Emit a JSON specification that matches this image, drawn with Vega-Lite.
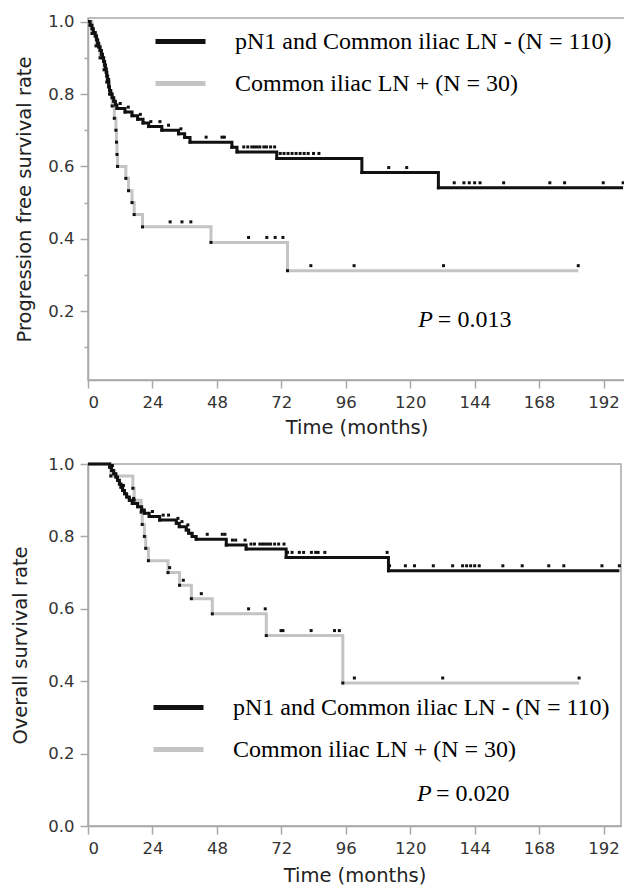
{
"$schema": "https://vega.github.io/schema/vega-lite/v6.json",
"padding": {"left": 10, "top": 12, "right": 1, "bottom": 2},
"background": "white",
"spacing": 17,
"columns": 1,
"align": "none",
"config": {
 "view": {"stroke": "#a8a8a8", "strokeWidth": 1.5},
 "axis": {"domainColor": "#a8a8a8", "tickColor": "#a8a8a8", "domainWidth": 1.5, "tickWidth": 1.5, "labelColor": "#333", "titleColor": "#222", "labelFont": "DejaVu Sans", "titleFont": "DejaVu Sans", "labelFontSize": 16.5, "titleFontSize": 19.5, "titleFontWeight": "normal", "grid": false, "labelPadding": 6},
 "legend": {"title": null, "symbolType": "stroke", "symbolSize": 2500, "symbolStrokeWidth": 5, "labelFont": "Liberation Serif", "labelFontSize": 24, "labelColor": "#000", "labelOffset": 27, "rowPadding": 2, "labelLimit": 600, "padding": 0}
},
"datasets": {
"pfs": [
{"group":"Common iliac LN + (N = 30)","t":0,"s":1,"k":"start"},
{"group":"Common iliac LN + (N = 30)","t":1.5,"s":0.967,"k":"event"},
{"group":"Common iliac LN + (N = 30)","t":3,"s":0.933,"k":"event"},
{"group":"Common iliac LN + (N = 30)","t":4.5,"s":0.9,"k":"event"},
{"group":"Common iliac LN + (N = 30)","t":6,"s":0.867,"k":"event"},
{"group":"Common iliac LN + (N = 30)","t":7,"s":0.833,"k":"event"},
{"group":"Common iliac LN + (N = 30)","t":8,"s":0.8,"k":"event"},
{"group":"Common iliac LN + (N = 30)","t":9,"s":0.767,"k":"event"},
{"group":"Common iliac LN + (N = 30)","t":9.8,"s":0.733,"k":"event"},
{"group":"Common iliac LN + (N = 30)","t":10.4,"s":0.7,"k":"event"},
{"group":"Common iliac LN + (N = 30)","t":10.6,"s":0.667,"k":"event"},
{"group":"Common iliac LN + (N = 30)","t":10.8,"s":0.633,"k":"event"},
{"group":"Common iliac LN + (N = 30)","t":11,"s":0.6,"k":"event"},
{"group":"Common iliac LN + (N = 30)","t":14.1,"s":0.567,"k":"event"},
{"group":"Common iliac LN + (N = 30)","t":15.1,"s":0.533,"k":"event"},
{"group":"Common iliac LN + (N = 30)","t":16.4,"s":0.5,"k":"event"},
{"group":"Common iliac LN + (N = 30)","t":17.2,"s":0.467,"k":"event"},
{"group":"Common iliac LN + (N = 30)","t":20.3,"s":0.433,"k":"event"},
{"group":"Common iliac LN + (N = 30)","t":30.6,"s":0.433,"k":"censor"},
{"group":"Common iliac LN + (N = 30)","t":35,"s":0.433,"k":"censor"},
{"group":"Common iliac LN + (N = 30)","t":38.3,"s":0.433,"k":"censor"},
{"group":"Common iliac LN + (N = 30)","t":45.8,"s":0.39,"k":"event"},
{"group":"Common iliac LN + (N = 30)","t":59.8,"s":0.39,"k":"censor"},
{"group":"Common iliac LN + (N = 30)","t":66.6,"s":0.39,"k":"censor"},
{"group":"Common iliac LN + (N = 30)","t":69.7,"s":0.39,"k":"censor"},
{"group":"Common iliac LN + (N = 30)","t":72.6,"s":0.39,"k":"censor"},
{"group":"Common iliac LN + (N = 30)","t":74.3,"s":0.312,"k":"event"},
{"group":"Common iliac LN + (N = 30)","t":83,"s":0.312,"k":"censor"},
{"group":"Common iliac LN + (N = 30)","t":99.1,"s":0.312,"k":"censor"},
{"group":"Common iliac LN + (N = 30)","t":132.4,"s":0.312,"k":"censor"},
{"group":"Common iliac LN + (N = 30)","t":182.6,"s":0.312,"k":"censor"},
{"group":"pN1 and Common iliac LN - (N = 110)","t":0,"s":1,"k":"start"},
{"group":"pN1 and Common iliac LN - (N = 110)","t":0.8,"s":0.99,"k":"event"},
{"group":"pN1 and Common iliac LN - (N = 110)","t":1.5,"s":0.98,"k":"event"},
{"group":"pN1 and Common iliac LN - (N = 110)","t":2,"s":0.97,"k":"event"},
{"group":"pN1 and Common iliac LN - (N = 110)","t":2.7,"s":0.96,"k":"event"},
{"group":"pN1 and Common iliac LN - (N = 110)","t":3.2,"s":0.95,"k":"event"},
{"group":"pN1 and Common iliac LN - (N = 110)","t":3.6,"s":0.94,"k":"event"},
{"group":"pN1 and Common iliac LN - (N = 110)","t":4,"s":0.93,"k":"event"},
{"group":"pN1 and Common iliac LN - (N = 110)","t":4.5,"s":0.92,"k":"event"},
{"group":"pN1 and Common iliac LN - (N = 110)","t":5,"s":0.91,"k":"event"},
{"group":"pN1 and Common iliac LN - (N = 110)","t":5.4,"s":0.9,"k":"event"},
{"group":"pN1 and Common iliac LN - (N = 110)","t":5.8,"s":0.89,"k":"event"},
{"group":"pN1 and Common iliac LN - (N = 110)","t":6.2,"s":0.88,"k":"event"},
{"group":"pN1 and Common iliac LN - (N = 110)","t":6.5,"s":0.87,"k":"event"},
{"group":"pN1 and Common iliac LN - (N = 110)","t":6.8,"s":0.86,"k":"event"},
{"group":"pN1 and Common iliac LN - (N = 110)","t":7,"s":0.85,"k":"event"},
{"group":"pN1 and Common iliac LN - (N = 110)","t":7.3,"s":0.84,"k":"event"},
{"group":"pN1 and Common iliac LN - (N = 110)","t":7.7,"s":0.82,"k":"event"},
{"group":"pN1 and Common iliac LN - (N = 110)","t":8,"s":0.81,"k":"event"},
{"group":"pN1 and Common iliac LN - (N = 110)","t":8.5,"s":0.8,"k":"event"},
{"group":"pN1 and Common iliac LN - (N = 110)","t":9,"s":0.79,"k":"event"},
{"group":"pN1 and Common iliac LN - (N = 110)","t":9.6,"s":0.78,"k":"event"},
{"group":"pN1 and Common iliac LN - (N = 110)","t":10.2,"s":0.77,"k":"event"},
{"group":"pN1 and Common iliac LN - (N = 110)","t":10.8,"s":0.76,"k":"event"},
{"group":"pN1 and Common iliac LN - (N = 110)","t":12,"s":0.76,"k":"censor"},
{"group":"pN1 and Common iliac LN - (N = 110)","t":13.8,"s":0.75,"k":"event"},
{"group":"pN1 and Common iliac LN - (N = 110)","t":15,"s":0.75,"k":"censor"},
{"group":"pN1 and Common iliac LN - (N = 110)","t":16.4,"s":0.74,"k":"event"},
{"group":"pN1 and Common iliac LN - (N = 110)","t":18.5,"s":0.73,"k":"event"},
{"group":"pN1 and Common iliac LN - (N = 110)","t":19.5,"s":0.73,"k":"censor"},
{"group":"pN1 and Common iliac LN - (N = 110)","t":20.5,"s":0.72,"k":"event"},
{"group":"pN1 and Common iliac LN - (N = 110)","t":22.6,"s":0.71,"k":"event"},
{"group":"pN1 and Common iliac LN - (N = 110)","t":23.4,"s":0.71,"k":"censor"},
{"group":"pN1 and Common iliac LN - (N = 110)","t":26.8,"s":0.71,"k":"censor"},
{"group":"pN1 and Common iliac LN - (N = 110)","t":27.5,"s":0.7,"k":"event"},
{"group":"pN1 and Common iliac LN - (N = 110)","t":30,"s":0.7,"k":"censor"},
{"group":"pN1 and Common iliac LN - (N = 110)","t":33.7,"s":0.69,"k":"event"},
{"group":"pN1 and Common iliac LN - (N = 110)","t":34.6,"s":0.69,"k":"censor"},
{"group":"pN1 and Common iliac LN - (N = 110)","t":36,"s":0.68,"k":"event"},
{"group":"pN1 and Common iliac LN - (N = 110)","t":38,"s":0.667,"k":"event"},
{"group":"pN1 and Common iliac LN - (N = 110)","t":44,"s":0.667,"k":"censor"},
{"group":"pN1 and Common iliac LN - (N = 110)","t":49.9,"s":0.667,"k":"censor"},
{"group":"pN1 and Common iliac LN - (N = 110)","t":50.8,"s":0.667,"k":"censor"},
{"group":"pN1 and Common iliac LN - (N = 110)","t":53.6,"s":0.653,"k":"event"},
{"group":"pN1 and Common iliac LN - (N = 110)","t":55.5,"s":0.64,"k":"event"},
{"group":"pN1 and Common iliac LN - (N = 110)","t":58,"s":0.64,"k":"censor"},
{"group":"pN1 and Common iliac LN - (N = 110)","t":59.5,"s":0.64,"k":"censor"},
{"group":"pN1 and Common iliac LN - (N = 110)","t":61,"s":0.64,"k":"censor"},
{"group":"pN1 and Common iliac LN - (N = 110)","t":62,"s":0.64,"k":"censor"},
{"group":"pN1 and Common iliac LN - (N = 110)","t":63,"s":0.64,"k":"censor"},
{"group":"pN1 and Common iliac LN - (N = 110)","t":64,"s":0.64,"k":"censor"},
{"group":"pN1 and Common iliac LN - (N = 110)","t":65.5,"s":0.64,"k":"censor"},
{"group":"pN1 and Common iliac LN - (N = 110)","t":66.5,"s":0.64,"k":"censor"},
{"group":"pN1 and Common iliac LN - (N = 110)","t":68,"s":0.64,"k":"censor"},
{"group":"pN1 and Common iliac LN - (N = 110)","t":69.5,"s":0.64,"k":"censor"},
{"group":"pN1 and Common iliac LN - (N = 110)","t":70.3,"s":0.622,"k":"event"},
{"group":"pN1 and Common iliac LN - (N = 110)","t":71.6,"s":0.622,"k":"censor"},
{"group":"pN1 and Common iliac LN - (N = 110)","t":73,"s":0.622,"k":"censor"},
{"group":"pN1 and Common iliac LN - (N = 110)","t":74.5,"s":0.622,"k":"censor"},
{"group":"pN1 and Common iliac LN - (N = 110)","t":76,"s":0.622,"k":"censor"},
{"group":"pN1 and Common iliac LN - (N = 110)","t":77.5,"s":0.622,"k":"censor"},
{"group":"pN1 and Common iliac LN - (N = 110)","t":79,"s":0.622,"k":"censor"},
{"group":"pN1 and Common iliac LN - (N = 110)","t":80.5,"s":0.622,"k":"censor"},
{"group":"pN1 and Common iliac LN - (N = 110)","t":82,"s":0.622,"k":"censor"},
{"group":"pN1 and Common iliac LN - (N = 110)","t":84,"s":0.622,"k":"censor"},
{"group":"pN1 and Common iliac LN - (N = 110)","t":86,"s":0.622,"k":"censor"},
{"group":"pN1 and Common iliac LN - (N = 110)","t":102,"s":0.583,"k":"event"},
{"group":"pN1 and Common iliac LN - (N = 110)","t":112,"s":0.583,"k":"censor"},
{"group":"pN1 and Common iliac LN - (N = 110)","t":118.7,"s":0.583,"k":"censor"},
{"group":"pN1 and Common iliac LN - (N = 110)","t":130.5,"s":0.541,"k":"event"},
{"group":"pN1 and Common iliac LN - (N = 110)","t":136.4,"s":0.541,"k":"censor"},
{"group":"pN1 and Common iliac LN - (N = 110)","t":140,"s":0.541,"k":"censor"},
{"group":"pN1 and Common iliac LN - (N = 110)","t":142,"s":0.541,"k":"censor"},
{"group":"pN1 and Common iliac LN - (N = 110)","t":144,"s":0.541,"k":"censor"},
{"group":"pN1 and Common iliac LN - (N = 110)","t":146,"s":0.541,"k":"censor"},
{"group":"pN1 and Common iliac LN - (N = 110)","t":154.8,"s":0.541,"k":"censor"},
{"group":"pN1 and Common iliac LN - (N = 110)","t":172,"s":0.541,"k":"censor"},
{"group":"pN1 and Common iliac LN - (N = 110)","t":177.5,"s":0.541,"k":"censor"},
{"group":"pN1 and Common iliac LN - (N = 110)","t":191.9,"s":0.541,"k":"censor"},
{"group":"pN1 and Common iliac LN - (N = 110)","t":199.3,"s":0.541,"k":"censor"}
],
"os": [
{"group":"Common iliac LN + (N = 30)","t":0,"s":1,"k":"start"},
{"group":"Common iliac LN + (N = 30)","t":8.5,"s":0.967,"k":"event"},
{"group":"Common iliac LN + (N = 30)","t":16.7,"s":0.933,"k":"event"},
{"group":"Common iliac LN + (N = 30)","t":17.2,"s":0.9,"k":"event"},
{"group":"Common iliac LN + (N = 30)","t":19.8,"s":0.867,"k":"event"},
{"group":"Common iliac LN + (N = 30)","t":20.2,"s":0.833,"k":"event"},
{"group":"Common iliac LN + (N = 30)","t":21,"s":0.8,"k":"event"},
{"group":"Common iliac LN + (N = 30)","t":21.5,"s":0.767,"k":"event"},
{"group":"Common iliac LN + (N = 30)","t":22.5,"s":0.733,"k":"event"},
{"group":"Common iliac LN + (N = 30)","t":29.8,"s":0.7,"k":"event"},
{"group":"Common iliac LN + (N = 30)","t":30.4,"s":0.7,"k":"censor"},
{"group":"Common iliac LN + (N = 30)","t":34.1,"s":0.665,"k":"event"},
{"group":"Common iliac LN + (N = 30)","t":35.5,"s":0.665,"k":"censor"},
{"group":"Common iliac LN + (N = 30)","t":38.5,"s":0.628,"k":"event"},
{"group":"Common iliac LN + (N = 30)","t":42.2,"s":0.628,"k":"censor"},
{"group":"Common iliac LN + (N = 30)","t":46.3,"s":0.586,"k":"event"},
{"group":"Common iliac LN + (N = 30)","t":59.8,"s":0.586,"k":"censor"},
{"group":"Common iliac LN + (N = 30)","t":66,"s":0.586,"k":"censor"},
{"group":"Common iliac LN + (N = 30)","t":66.4,"s":0.526,"k":"event"},
{"group":"Common iliac LN + (N = 30)","t":71.9,"s":0.526,"k":"censor"},
{"group":"Common iliac LN + (N = 30)","t":72.6,"s":0.526,"k":"censor"},
{"group":"Common iliac LN + (N = 30)","t":83.1,"s":0.526,"k":"censor"},
{"group":"Common iliac LN + (N = 30)","t":91.8,"s":0.526,"k":"censor"},
{"group":"Common iliac LN + (N = 30)","t":93.6,"s":0.526,"k":"censor"},
{"group":"Common iliac LN + (N = 30)","t":94.9,"s":0.395,"k":"event"},
{"group":"Common iliac LN + (N = 30)","t":99.2,"s":0.395,"k":"censor"},
{"group":"Common iliac LN + (N = 30)","t":132.1,"s":0.395,"k":"censor"},
{"group":"Common iliac LN + (N = 30)","t":182.9,"s":0.395,"k":"censor"},
{"group":"pN1 and Common iliac LN - (N = 110)","t":0,"s":1,"k":"start"},
{"group":"pN1 and Common iliac LN - (N = 110)","t":8.1,"s":0.991,"k":"event"},
{"group":"pN1 and Common iliac LN - (N = 110)","t":8.8,"s":0.982,"k":"event"},
{"group":"pN1 and Common iliac LN - (N = 110)","t":9.1,"s":0.982,"k":"censor"},
{"group":"pN1 and Common iliac LN - (N = 110)","t":9.6,"s":0.973,"k":"event"},
{"group":"pN1 and Common iliac LN - (N = 110)","t":10.4,"s":0.964,"k":"event"},
{"group":"pN1 and Common iliac LN - (N = 110)","t":11,"s":0.955,"k":"event"},
{"group":"pN1 and Common iliac LN - (N = 110)","t":11.7,"s":0.945,"k":"event"},
{"group":"pN1 and Common iliac LN - (N = 110)","t":12.3,"s":0.936,"k":"event"},
{"group":"pN1 and Common iliac LN - (N = 110)","t":12.9,"s":0.927,"k":"event"},
{"group":"pN1 and Common iliac LN - (N = 110)","t":13.2,"s":0.927,"k":"censor"},
{"group":"pN1 and Common iliac LN - (N = 110)","t":13.6,"s":0.918,"k":"event"},
{"group":"pN1 and Common iliac LN - (N = 110)","t":14.4,"s":0.909,"k":"event"},
{"group":"pN1 and Common iliac LN - (N = 110)","t":15.4,"s":0.9,"k":"event"},
{"group":"pN1 and Common iliac LN - (N = 110)","t":16.5,"s":0.891,"k":"event"},
{"group":"pN1 and Common iliac LN - (N = 110)","t":17,"s":0.891,"k":"censor"},
{"group":"pN1 and Common iliac LN - (N = 110)","t":18.5,"s":0.882,"k":"event"},
{"group":"pN1 and Common iliac LN - (N = 110)","t":20,"s":0.873,"k":"event"},
{"group":"pN1 and Common iliac LN - (N = 110)","t":21,"s":0.864,"k":"event"},
{"group":"pN1 and Common iliac LN - (N = 110)","t":22.8,"s":0.855,"k":"event"},
{"group":"pN1 and Common iliac LN - (N = 110)","t":24,"s":0.855,"k":"censor"},
{"group":"pN1 and Common iliac LN - (N = 110)","t":26.7,"s":0.845,"k":"event"},
{"group":"pN1 and Common iliac LN - (N = 110)","t":28,"s":0.845,"k":"censor"},
{"group":"pN1 and Common iliac LN - (N = 110)","t":30,"s":0.845,"k":"censor"},
{"group":"pN1 and Common iliac LN - (N = 110)","t":32.9,"s":0.836,"k":"event"},
{"group":"pN1 and Common iliac LN - (N = 110)","t":33.5,"s":0.836,"k":"censor"},
{"group":"pN1 and Common iliac LN - (N = 110)","t":34,"s":0.827,"k":"event"},
{"group":"pN1 and Common iliac LN - (N = 110)","t":35,"s":0.827,"k":"censor"},
{"group":"pN1 and Common iliac LN - (N = 110)","t":36.6,"s":0.818,"k":"event"},
{"group":"pN1 and Common iliac LN - (N = 110)","t":37.2,"s":0.818,"k":"censor"},
{"group":"pN1 and Common iliac LN - (N = 110)","t":37.5,"s":0.809,"k":"event"},
{"group":"pN1 and Common iliac LN - (N = 110)","t":38.8,"s":0.8,"k":"event"},
{"group":"pN1 and Common iliac LN - (N = 110)","t":40.3,"s":0.792,"k":"event"},
{"group":"pN1 and Common iliac LN - (N = 110)","t":44.4,"s":0.792,"k":"censor"},
{"group":"pN1 and Common iliac LN - (N = 110)","t":50,"s":0.792,"k":"censor"},
{"group":"pN1 and Common iliac LN - (N = 110)","t":51,"s":0.792,"k":"censor"},
{"group":"pN1 and Common iliac LN - (N = 110)","t":51.5,"s":0.776,"k":"event"},
{"group":"pN1 and Common iliac LN - (N = 110)","t":53.8,"s":0.776,"k":"censor"},
{"group":"pN1 and Common iliac LN - (N = 110)","t":55,"s":0.776,"k":"censor"},
{"group":"pN1 and Common iliac LN - (N = 110)","t":58.5,"s":0.776,"k":"censor"},
{"group":"pN1 and Common iliac LN - (N = 110)","t":58.9,"s":0.765,"k":"event"},
{"group":"pN1 and Common iliac LN - (N = 110)","t":60.7,"s":0.765,"k":"censor"},
{"group":"pN1 and Common iliac LN - (N = 110)","t":62,"s":0.765,"k":"censor"},
{"group":"pN1 and Common iliac LN - (N = 110)","t":64,"s":0.765,"k":"censor"},
{"group":"pN1 and Common iliac LN - (N = 110)","t":65,"s":0.765,"k":"censor"},
{"group":"pN1 and Common iliac LN - (N = 110)","t":66,"s":0.765,"k":"censor"},
{"group":"pN1 and Common iliac LN - (N = 110)","t":67,"s":0.765,"k":"censor"},
{"group":"pN1 and Common iliac LN - (N = 110)","t":68,"s":0.765,"k":"censor"},
{"group":"pN1 and Common iliac LN - (N = 110)","t":69.5,"s":0.765,"k":"censor"},
{"group":"pN1 and Common iliac LN - (N = 110)","t":71,"s":0.765,"k":"censor"},
{"group":"pN1 and Common iliac LN - (N = 110)","t":73,"s":0.765,"k":"censor"},
{"group":"pN1 and Common iliac LN - (N = 110)","t":73.8,"s":0.742,"k":"event"},
{"group":"pN1 and Common iliac LN - (N = 110)","t":74.3,"s":0.742,"k":"censor"},
{"group":"pN1 and Common iliac LN - (N = 110)","t":76,"s":0.742,"k":"censor"},
{"group":"pN1 and Common iliac LN - (N = 110)","t":78.7,"s":0.742,"k":"censor"},
{"group":"pN1 and Common iliac LN - (N = 110)","t":80.3,"s":0.742,"k":"censor"},
{"group":"pN1 and Common iliac LN - (N = 110)","t":83.2,"s":0.742,"k":"censor"},
{"group":"pN1 and Common iliac LN - (N = 110)","t":84.8,"s":0.742,"k":"censor"},
{"group":"pN1 and Common iliac LN - (N = 110)","t":85.7,"s":0.742,"k":"censor"},
{"group":"pN1 and Common iliac LN - (N = 110)","t":88.2,"s":0.742,"k":"censor"},
{"group":"pN1 and Common iliac LN - (N = 110)","t":111.4,"s":0.742,"k":"censor"},
{"group":"pN1 and Common iliac LN - (N = 110)","t":111.9,"s":0.705,"k":"event"},
{"group":"pN1 and Common iliac LN - (N = 110)","t":112.3,"s":0.705,"k":"censor"},
{"group":"pN1 and Common iliac LN - (N = 110)","t":118.2,"s":0.705,"k":"censor"},
{"group":"pN1 and Common iliac LN - (N = 110)","t":121.6,"s":0.705,"k":"censor"},
{"group":"pN1 and Common iliac LN - (N = 110)","t":128.6,"s":0.705,"k":"censor"},
{"group":"pN1 and Common iliac LN - (N = 110)","t":135.8,"s":0.705,"k":"censor"},
{"group":"pN1 and Common iliac LN - (N = 110)","t":139.5,"s":0.705,"k":"censor"},
{"group":"pN1 and Common iliac LN - (N = 110)","t":141,"s":0.705,"k":"censor"},
{"group":"pN1 and Common iliac LN - (N = 110)","t":142.5,"s":0.705,"k":"censor"},
{"group":"pN1 and Common iliac LN - (N = 110)","t":144,"s":0.705,"k":"censor"},
{"group":"pN1 and Common iliac LN - (N = 110)","t":145.7,"s":0.705,"k":"censor"},
{"group":"pN1 and Common iliac LN - (N = 110)","t":154.5,"s":0.705,"k":"censor"},
{"group":"pN1 and Common iliac LN - (N = 110)","t":161.7,"s":0.705,"k":"censor"},
{"group":"pN1 and Common iliac LN - (N = 110)","t":171.6,"s":0.705,"k":"censor"},
{"group":"pN1 and Common iliac LN - (N = 110)","t":177.2,"s":0.705,"k":"censor"},
{"group":"pN1 and Common iliac LN - (N = 110)","t":191.4,"s":0.705,"k":"censor"},
{"group":"pN1 and Common iliac LN - (N = 110)","t":197.9,"s":0.705,"k":"censor"}
]
},
"concat": [
{
 "width": 537, "height": 362,
 "layer": [
  {"data": {"name": "pfs"},
   "mark": {"type": "line", "interpolate": "step-after", "strokeWidth": 3},
   "encoding": {
    "x": {"field": "t", "type": "quantitative", "title": "Time (months)", "scale": {"domain": [0, 200], "nice": false},
     "axis": {"values": [0,12,24,36,48,60,72,84,96,108,120,132,144,156,168,180,192], "labelExpr": "datum.value % 24 === 0 ? datum.label : ''", "tickSize": {"condition": {"test": "datum.value % 24 === 0", "value": 8}, "value": 4}, "titlePadding": 8}},
    "y": {"field": "s", "type": "quantitative", "title": "Progression free survival rate", "scale": {"domain": [0.01, 1.01], "nice": false, "zero": false},
     "axis": {"values": [0.1,0.2,0.3,0.4,0.5,0.6,0.7,0.8,0.9,1.0], "format": ".1f", "labelExpr": "round(datum.value*10) % 2 === 0 ? datum.label : ''", "tickSize": {"condition": {"test": "round(datum.value*10) % 2 === 0", "value": 8}, "value": 4}, "titlePadding": 13}},
    "color": {"field": "group", "type": "nominal", "scale": {"domain": ["pN1 and Common iliac LN - (N = 110)", "Common iliac LN + (N = 30)"], "range": ["#111111", "#c4c4c4"]},
     "legend": {"orient": "none", "legendX": 65, "legendY": -4}}}},
  {"data": {"name": "pfs"}, "transform": [{"filter": "datum.k === 'event'"}], "mark": {"type": "square", "size": 9, "color": "#111", "opacity": 1},
   "encoding": {"x": {"field": "t", "type": "quantitative"}, "y": {"field": "s", "type": "quantitative"}}},
  {"data": {"name": "pfs"}, "transform": [{"filter": "datum.k === 'censor'"}], "mark": {"type": "square", "size": 9, "color": "#111", "opacity": 1, "yOffset": -5},
   "encoding": {"x": {"field": "t", "type": "quantitative"}, "y": {"field": "s", "type": "quantitative"}}},
  {"data": {"values": [{"label": "P"}]}, "mark": {"type": "text", "font": "Liberation Serif", "fontSize": 24, "fontStyle": "italic", "align": "left", "baseline": "alphabetic", "color": "#000"},
   "encoding": {"text": {"field": "label", "type": "nominal"}, "x": {"datum": 123, "type": "quantitative"}, "y": {"datum": 0.156, "type": "quantitative"}}},
  {"data": {"values": [{"label": "= 0.013"}]}, "mark": {"type": "text", "font": "Liberation Serif", "fontSize": 24, "align": "left", "baseline": "alphabetic", "color": "#000"},
   "encoding": {"text": {"field": "label", "type": "nominal"}, "x": {"datum": 130.3, "type": "quantitative"}, "y": {"datum": 0.156, "type": "quantitative"}}}
 ]
},
{
 "width": 533, "height": 362,
 "layer": [
  {"data": {"name": "os"},
   "mark": {"type": "line", "interpolate": "step-after", "strokeWidth": 3},
   "encoding": {
    "x": {"field": "t", "type": "quantitative", "title": "Time (months)", "scale": {"domain": [0, 198.5], "nice": false},
     "axis": {"values": [0,12,24,36,48,60,72,84,96,108,120,132,144,156,168,180,192], "labelExpr": "datum.value % 24 === 0 ? datum.label : ''", "tickSize": {"condition": {"test": "datum.value % 24 === 0", "value": 8}, "value": 4}, "titlePadding": 10}},
    "y": {"field": "s", "type": "quantitative", "title": "Overall survival rate", "scale": {"domain": [0, 1], "nice": false},
     "axis": {"values": [0,0.1,0.2,0.3,0.4,0.5,0.6,0.7,0.8,0.9,1.0], "format": ".1f", "labelExpr": "round(datum.value*10) % 2 === 0 ? datum.label : ''", "tickSize": {"condition": {"test": "round(datum.value*10) % 2 === 0", "value": 8}, "value": 4}, "titlePadding": 17}},
    "color": {"field": "group", "type": "nominal", "scale": {"domain": ["pN1 and Common iliac LN - (N = 110)", "Common iliac LN + (N = 30)"], "range": ["#111111", "#c4c4c4"]},
     "legend": {"orient": "none", "legendX": 63, "legendY": 216}}}},
  {"data": {"name": "os"}, "transform": [{"filter": "datum.k === 'event'"}], "mark": {"type": "square", "size": 9, "color": "#111", "opacity": 1},
   "encoding": {"x": {"field": "t", "type": "quantitative"}, "y": {"field": "s", "type": "quantitative"}}},
  {"data": {"name": "os"}, "transform": [{"filter": "datum.k === 'censor'"}], "mark": {"type": "square", "size": 9, "color": "#111", "opacity": 1, "yOffset": -5},
   "encoding": {"x": {"field": "t", "type": "quantitative"}, "y": {"field": "s", "type": "quantitative"}}},
  {"data": {"values": [{"label": "P"}]}, "mark": {"type": "text", "font": "Liberation Serif", "fontSize": 24, "fontStyle": "italic", "align": "left", "baseline": "alphabetic", "color": "#000"},
   "encoding": {"text": {"field": "label", "type": "nominal"}, "x": {"datum": 122.5, "type": "quantitative"}, "y": {"datum": 0.07, "type": "quantitative"}}},
  {"data": {"values": [{"label": "= 0.020"}]}, "mark": {"type": "text", "font": "Liberation Serif", "fontSize": 24, "align": "left", "baseline": "alphabetic", "color": "#000"},
   "encoding": {"text": {"field": "label", "type": "nominal"}, "x": {"datum": 129.6, "type": "quantitative"}, "y": {"datum": 0.07, "type": "quantitative"}}}
 ]
}
],
"resolve": {"scale": {"color": "independent", "x": "independent", "y": "independent"}, "legend": {"color": "independent"}}
}
